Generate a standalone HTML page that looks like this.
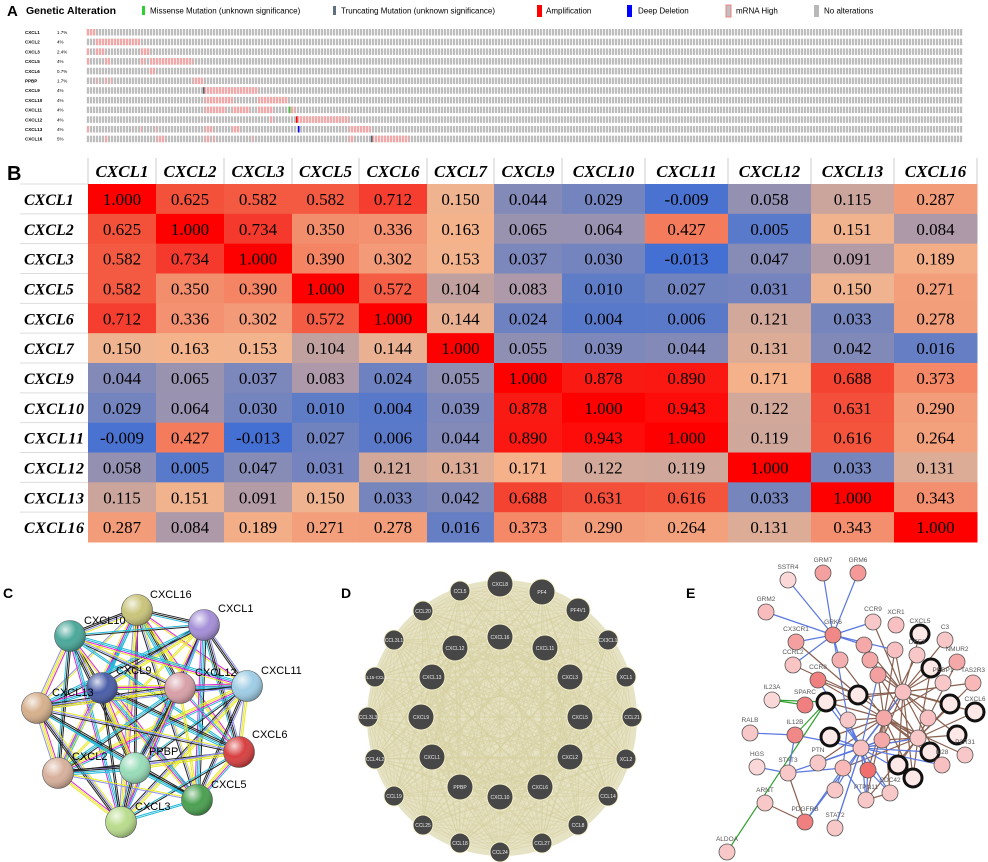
<!DOCTYPE html>
<html><head><meta charset="utf-8">
<style>
html,body{margin:0;padding:0;background:#fff;}
svg{display:block;font-family:"Liberation Sans",sans-serif;}
</style></head>
<body>
<svg id="fig" width="988" height="862" viewBox="0 0 988 862" xmlns="http://www.w3.org/2000/svg">
<defs>
<pattern id="stripes" width="3" height="6" patternUnits="userSpaceOnUse">
<rect width="3" height="6" fill="#f2f2f2"/><rect width="2" height="6" fill="#bdbdbd"/>
</pattern>
<pattern id="pstripes" width="3" height="6" patternUnits="userSpaceOnUse">
<rect width="3" height="6" fill="#fbe3e3"/><rect width="2" height="6" fill="#f0a8a8"/>
</pattern>
<radialGradient id="shine" cx="0.35" cy="0.3" r="0.7"><stop offset="0" stop-color="#fff" stop-opacity="0.8"/><stop offset="0.5" stop-color="#fff" stop-opacity="0"/><stop offset="1" stop-color="#000" stop-opacity="0.25"/></radialGradient>
</defs>
<g>
<text x="7" y="16" font-size="15" font-weight="bold">A</text>
<text x="26" y="14" font-size="10.5" font-weight="bold">Genetic Alteration</text>
<g font-size="8">
<rect x="142" y="6" width="3" height="9" fill="#2fcf2f"/><text x="150" y="13.5">Missense Mutation (unknown significance)</text>
<rect x="333" y="6" width="3" height="9" fill="#607080"/><text x="341" y="13.5">Truncating Mutation (unknown significance)</text>
<rect x="537" y="5" width="5" height="12" fill="#ff0000"/><text x="546" y="13.5">Amplification</text>
<rect x="627" y="5" width="5" height="12" fill="#0000ff"/><text x="638" y="13.5">Deep Deletion</text>
<rect x="726" y="5" width="5" height="12" fill="#c0c0c0" stroke="#f08080"/><text x="736" y="13.5">mRNA High</text>
<rect x="814" y="5" width="5" height="12" fill="#b8b8b8"/><text x="824" y="13.5">No alterations</text>
</g>
<g id="oncoprint"></g>
</g>
<g>
<text x="7" y="180" font-size="20" font-weight="bold">B</text>
<g id="heatmap"></g>
</g>
<g>
<text x="3" y="598" font-size="14" font-weight="bold">C</text>
<g id="stringnet"></g>
</g>
<g>
<text x="341" y="598" font-size="14" font-weight="bold">D</text>
<g id="genemania"></g>
</g>
<g>
<text x="686" y="598" font-size="14" font-weight="bold">E</text>
<g id="cbio"></g>
</g>
</svg>
<script>
const NS="http://www.w3.org/2000/svg";
function mk(tag,attrs,parent,txt){const e=document.createElementNS(NS,tag);for(const k in attrs)e.setAttribute(k,attrs[k]);if(txt!==undefined)e.textContent=txt;parent.appendChild(e);return e;}

/* ---------- Panel A oncoprint ---------- */
const oncoGenes=["CXCL1","CXCL2","CXCL3","CXCL5","CXCL6","PPBP","CXCL9","CXCL10","CXCL11","CXCL12","CXCL13","CXCL16"];
const oncoPct=["1.7%","4%","2.4%","4%","0.7%","1.7%","4%","4%","4%","4%","4%","5%"];
const oncoMrna=[[[86,95]],[[95,139]],[[86,88],[95,104],[140,149]],[[87,89],[105,109],[140,144],[150,192]],[[150,154]],[[95,96],[105,106],[110,111],[193,202]],[[204,257]],[[205,232],[258,287]],[[205,225],[232,249],[258,272],[290,294]],[[270,272],[296,348]],[[87,88],[140,141],[155,156],[205,212],[232,239],[349,370]],[[105,107],[157,164],[205,209],[213,214],[251,252],[349,353],[371,408]]];
const onco=document.getElementById('oncoprint');
oncoGenes.forEach((g,i)=>{
  const y=29+i*9.7;
  const t=mk('text',{x:25,y:y+5,'font-size':4.5,'font-weight':'bold'},onco,g);
  
  const p=mk('text',{x:57,y:y+5,'font-size':4.5},onco,oncoPct[i]);
  
  const r=mk('rect',{x:86,y:y,width:877,height:6.5,fill:'url(#stripes)'},onco);
  
  oncoMrna[i].forEach(s=>{const m=mk('rect',{x:s[0],y:y,width:s[1]-s[0]+1,height:6.5,fill:'url(#pstripes)'},onco);
    });
});
[[203,6,'#506070'],[289,8,'#2fcf2f'],[296,9,'#ff0000'],[298,10,'#0000ff'],[371,11,'#506070']].forEach(a=>{
  const m=mk('rect',{x:a[0],y:29+a[1]*9.7,width:1.5,height:6.5,fill:a[2]},onco);
  });

/* ---------- Panel B heatmap ---------- */
const genes=["CXCL1","CXCL2","CXCL3","CXCL5","CXCL6","CXCL7","CXCL9","CXCL10","CXCL11","CXCL12","CXCL13","CXCL16"];
const row0=[1.000,0.625,0.582,0.582,0.712,0.150,0.044,0.029,-0.009,0.058,0.115,0.287];
const row1=[0.625,1.000,0.734,0.350,0.336,0.163,0.065,0.064,0.427,0.005,0.151,0.084];
const row2=[0.582,0.734,1.000,0.390,0.302,0.153,0.037,0.030,-0.013,0.047,0.091,0.189];
const row3=[0.582,0.350,0.390,1.000,0.572,0.104,0.083,0.010,0.027,0.031,0.150,0.271];
const row4=[0.712,0.336,0.302,0.572,1.000,0.144,0.024,0.004,0.006,0.121,0.033,0.278];
const row5=[0.150,0.163,0.153,0.104,0.144,1.000,0.055,0.039,0.044,0.131,0.042,0.016];
const row6=[0.044,0.065,0.037,0.083,0.024,0.055,1.000,0.878,0.890,0.171,0.688,0.373];
const row7=[0.029,0.064,0.030,0.010,0.004,0.039,0.878,1.000,0.943,0.122,0.631,0.290];
const row8=[-0.009,0.427,-0.013,0.027,0.006,0.044,0.890,0.943,1.000,0.119,0.616,0.264];
const row9=[0.058,0.005,0.047,0.031,0.121,0.131,0.171,0.122,0.119,1.000,0.033,0.131];
const row10=[0.115,0.151,0.091,0.150,0.033,0.042,0.688,0.631,0.616,0.033,1.000,0.343];
const row11=[0.287,0.084,0.189,0.271,0.278,0.016,0.373,0.290,0.264,0.131,0.343,1.000];
const corr=[row0,row1,row2,row3,row4,row5,row6,row7,row8,row9,row10,row11];

const colEdges=[88,156,224,292,359,427,494,562,645,728,811,894,977];
const hmTop=184,hmBottom=542;
const rowH=(hmBottom-hmTop)/genes.length;
function xPos(i){return colEdges[i];}
function colW(i){return colEdges[i+1]-colEdges[i];}
function yPos(j){return hmTop+j*rowH;}
const stops=[[-0.013,[68,112,211]],[0.01,[95,124,199]],[0.03,[116,132,190]],[0.05,[138,141,181]],[0.08,[170,152,170]],[0.11,[198,163,158]],[0.135,[224,174,150]],[0.155,[244,180,140]],[0.3,[243,154,120]],[0.43,[244,122,90]],[0.6,[244,86,62]],[0.75,[245,54,42]],[1.0,[255,0,0]]];
function color(v){
  if(v<=stops[0][0])return 'rgb('+stops[0][1]+')';
  for(let k=1;k<stops.length;k++){if(v<=stops[k][0]){const a=stops[k-1],b=stops[k];const t=(v-a[0])/(b[0]-a[0]);
    return 'rgb('+a[1].map((c,i)=>Math.round(c+(b[1][i]-c)*t)).join(',')+')';}}
  return 'rgb(255,0,0)';
}
const hm=document.getElementById('heatmap');
genes.forEach((g,i)=>{
  const cx=xPos(i)+colW(i)/2;
  const t=mk('text',{x:cx,y:hmTop-7,'text-anchor':'middle','font-family':'"Liberation Serif",serif','font-size':17,'font-weight':'bold','font-style':'italic'},hm,g);
  
  const s=mk('line',{x1:xPos(i),x2:xPos(i),y1:hmTop-26,y2:hmTop,stroke:'#ccc','stroke-width':1},hm);
  
});
const sEnd=mk('line',{x1:colEdges[12],x2:colEdges[12],y1:hmTop-26,y2:hmTop,stroke:'#ccc'},hm);

corr.forEach((row,j)=>{
  const y=yPos(j);
  const rl=mk('text',{x:24,y:y+rowH/2+6,'font-family':'"Liberation Serif",serif','font-size':16,'font-weight':'bold','font-style':'italic'},hm,genes[j]);
  if(genes[j].length>5)rl.setAttribute('textLength','60');
  
  const ln=mk('line',{x1:20,x2:88,y1:y,y2:y,stroke:'#ddd'},hm);
  
  row.forEach((v,i)=>{
    const c=mk('rect',{x:xPos(i),y:y,width:colW(i)+0.5,height:rowH+0.5,fill:color(v)},hm);
    
    const tv=mk('text',{x:xPos(i)+colW(i)/2,y:y+rowH/2+6,'text-anchor':'middle','font-family':'"Liberation Serif",serif','font-size':17},hm,v.toFixed(3));
    
  });
});

/* ---------- Panel C STRING network ---------- */
const cNodes=[["CXCL16",137,610,"#c9c47a",150,598],["CXCL1",204,625,"#a58fd8",218,612],["CXCL10",70,636,"#4aa89a",84,624],["CXCL11",247,686,"#9fcde6",261,674],["CXCL9",102,688,"#4a5ea8",116,674],["CXCL12",180,688,"#d8a0a8",195,676],["CXCL13",37,708,"#d6b08c",52,696],["CXCL6",239,752,"#d84040",252,738],["CXCL2",58,773,"#d8b09c",72,760],["PPBP",135,768,"#98dcb8",149,755],["CXCL5",197,800,"#4aa050",211,788],["CXCL3",121,822,"#b8dc8c",135,810]];
const cg=document.getElementById('stringnet');
const cCols=['#20b8d8','#e8e820','#222','#20b8d8','#e8e820','#222','#e020e0','#9090f0'];
for(let a=0;a<cNodes.length;a++)for(let b=a+1;b<cNodes.length;b++){
  const A=cNodes[a],B=cNodes[b];const dx=B[1]-A[1],dy=B[2]-A[2],L=Math.hypot(dx,dy);const nx=-dy/L,ny=dx/L;
  const n=((a+b)%3)+2;
  for(let k=0;k<n;k++){const off=(k-(n-1)/2)*1.6;
    const l=mk('line',{x1:A[1]+nx*off,y1:A[2]+ny*off,x2:B[1]+nx*off,y2:B[2]+ny*off,stroke:cCols[(k*3+a+b*2)%8],'stroke-width':1},cg);
    }
}
cNodes.forEach(n=>{
  const c=mk('circle',{cx:n[1],cy:n[2],r:15.5,fill:n[3],stroke:'#555','stroke-width':0.6},cg);
  
  const s=mk('circle',{cx:n[1],cy:n[2],r:15.5,fill:'url(#shine)'},cg);
  
  const t=mk('text',{x:n[4],y:n[5],'font-size':11},cg,n[0]);
  
});

/* ---------- Panel D GeneMANIA network ---------- */
const dOuter=[["CCL5",460,591,10],["CXCL8",500,584,13],["PF4",542,592,13],["PF4V1",578,610,12],["CCL20",423,611,10],["CX3CL1",608,640,10],["CCL3L1",394,640,10],["XCL1",626,677,10],["CCL15-CCL14",375,677,10],["CCL21",632,717,10],["CCL3L3",368,717,10],["XCL2",626,759,10],["CCL4L2",375,759,10],["CCL14",608,796,10],["CCL19",394,796,10],["CCL8",578,825,10],["CCL25",423,825,10],["CCL27",542,843,10],["CCL18",460,843,10],["CCL24",500,852,10]];
const dInner=[["CXCL16",500,637,13],["CXCL12",455,648,13],["CXCL11",545,648,13],["CXCL13",432,677,13],["CXCL3",570,677,13],["CXCL9",421,717,13],["CXCL5",580,717,13],["CXCL1",432,757,13],["CXCL2",570,757,13],["PPBP",460,787,13],["CXCL6",540,787,13],["CXCL10",500,797,13]];
const dg=document.getElementById('genemania');
const bg=mk('ellipse',{cx:502,cy:718,rx:135,ry:138,fill:'#e6e2c4'},dg);

const dAll=dOuter.concat(dInner);
for(let a=0;a<dAll.length;a++)for(let b=a+1;b<dAll.length;b++){
  const l=mk('line',{x1:dAll[a][1],y1:dAll[a][2],x2:dAll[b][1],y2:dAll[b][2],stroke:'#d6d0a0','stroke-width':0.8,'stroke-opacity':0.6},dg);
  
}
dAll.forEach(n=>{
  const c=mk('circle',{cx:n[1],cy:n[2],r:n[3],fill:'#474747',stroke:'#f4f0c8','stroke-width':1},dg);
  
  const t=mk('text',{x:n[1],y:n[2]+2,'text-anchor':'middle','font-size':n[0].length>8?4.5:5,fill:'#eee'},dg,n[0]);
  
});

/* ---------- Panel E cBioPortal network ---------- */
const eNodes=[["SSTR4",788,580,"#fbd8d8",0],["GRM7",823,573,"#f4a0a0",0],["GRM6",858,573,"#f49898",0],["GRM2",766,612,"#f8bcbc",0],["GRK6",833,635,"#f08888",0],["CCR9",873,622,"#f8c8c8",0],["XCR1",896,625,"#f8c0c0",0],["CXCL5",920,634,"#fde8e8",1],["C3",945,640,"#f8c8c8",0],["CX3CR1",796,642,"#f4a0a0",0],["",864,645,"#f4a8a8",0],["",895,650,"#f8c0c0",0],["DEF3",917,655,"#f8c8c8",0],["NMUR2",957,662,"#f4a8a8",0],["CCRL2",793,665,"#f8c4c4",0],["",840,660,"#f4b0b0",0],["",870,660,"#f4a8a8",0],["",878,675,"#f4a0a0",0],["CCR8",818,680,"#f08080",0],["",931,668,"#fde8e8",1],["TAS2R3",973,683,"#f8b8b8",0],["PEBP1",943,683,"#f8c8c8",0],["",858,695,"#fde8e8",1],["",826,702,"#fde8e8",1],["",903,692,"#f8c0c0",0],["",950,704,"#fde8e8",1],["CXCL6",975,712,"#fde8e8",1],["IL23A",772,700,"#fbd8d8",0],["SPARC",805,705,"#f08080",0],["",884,718,"#f4a8a8",0],["",848,720,"#f8c8c8",0],["",928,718,"#f8c0c0",0],["IL12B",795,735,"#f08888",0],["",830,737,"#fde8e8",1],["RALB",750,733,"#f8c8c8",0],["",882,740,"#f4a8a8",0],["",918,738,"#f8c8c8",0],["",957,735,"#fde8e8",1],["",861,748,"#f8c0c0",0],["",930,752,"#fde8e8",1],["HGS",757,767,"#fbd8d8",0],["STAT3",788,773,"#f8c8c8",0],["PTN",818,763,"#f8c8c8",0],["",898,765,"#fde8e8",1],["",913,778,"#fde8e8",1],["",868,770,"#f07070",0],["",843,768,"#f8b8b8",0],["IL28",942,765,"#f8c0c0",0],["P2R31",965,755,"#f8c8c8",0],["",835,790,"#f8c8c8",0],["PTPN11",866,800,"#f8c8c8",0],["CDC42",890,793,"#f8c8c8",0],["ARNT",765,803,"#f8c8c8",0],["PDGFRB",805,822,"#f08080",0],["STAT2",835,828,"#f8c8c8",0],["ALDOA",727,852,"#f8c8c8",0]];
const eEdges=[[4,0,'#5a78e0'],[4,1,'#5a78e0'],[4,2,'#5a78e0'],[4,3,'#5a78e0'],[4,9,'#5a78e0'],[4,14,'#5a78e0'],[4,5,'#5a78e0'],[4,10,'#5a78e0'],[4,15,'#5a78e0'],[4,11,'#5a78e0'],[4,30,'#5a78e0'],[27,28,'#30a030'],[27,23,'#30a030'],[32,23,'#30a030'],[55,23,'#30a030'],[32,34,'#5a78e0'],[32,41,'#5a78e0'],[41,40,'#5a78e0'],[46,41,'#5a78e0'],[46,49,'#5a78e0'],[46,50,'#5a78e0'],[46,53,'#5a78e0'],[38,42,'#5a78e0'],[38,49,'#5a78e0'],[38,53,'#5a78e0'],[38,54,'#5a78e0'],[45,51,'#5a78e0'],[45,50,'#5a78e0'],[30,46,'#5a78e0'],[30,45,'#5a78e0'],[35,38,'#5a78e0'],[35,42,'#5a78e0'],[14,22,'#8a6050'],[18,22,'#8a6050'],[9,22,'#8a6050'],[52,53,'#8a6050'],[41,53,'#8a6050'],[50,51,'#8a6050']];
const eHubs=[29,24,36,38];
const eg=document.getElementById('cbio');
eHubs.forEach(h=>{eNodes.forEach((n,k)=>{if(k!==h&&(k*7+h)%3!==0&&Math.hypot(n[1]-eNodes[h][1],n[2]-eNodes[h][2])<90){
  const l=mk('line',{x1:eNodes[h][1],y1:eNodes[h][2],x2:n[1],y2:n[2],stroke:h===38?'#5a78e0':'#8a6050','stroke-width':1.2},eg);
  }});});
eEdges.forEach(e=>{const A=eNodes[e[0]],B=eNodes[e[1]];
  const l=mk('line',{x1:A[1],y1:A[2],x2:B[1],y2:B[2],stroke:e[2],'stroke-width':1.2},eg);
  });
eNodes.forEach(n=>{
  const c=mk('circle',{cx:n[1],cy:n[2],r:n[4]?9:8,fill:n[3],stroke:n[4]?'#111':'#555','stroke-width':n[4]?3:0.8},eg);
  
  if(n[0]){const t=mk('text',{x:n[1],y:n[2]-11,'text-anchor':'middle','font-size':6.5,fill:'#555'},eg,n[0]);
    }
});
</script>
</body></html>
